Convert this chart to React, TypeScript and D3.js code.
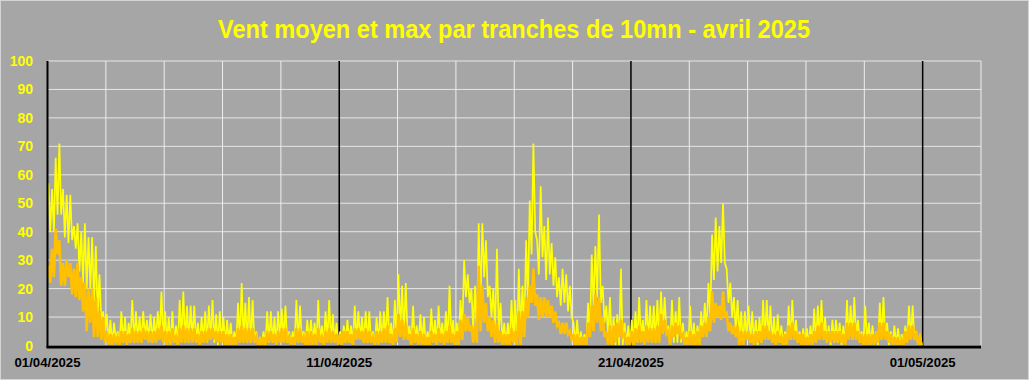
import React from 'react';
import * as d3 from 'd3';

const TITLE = 'Vent moyen et max par tranches de 10mn - avril 2025';
const Y_TICKS = [0, 10, 20, 30, 40, 50, 60, 70, 80, 90, 100];
const X_LABELS = ['01/04/2025', '11/04/2025', '21/04/2025', '01/05/2025'];
const X_LABEL_DATES = ['2025-04-01', '2025-04-11', '2025-04-21', '2025-05-01'];
const START = '2025-04-01';
const END = '2025-05-03';
const BUCKETS_PER_DAY = 8; // 3-hour buckets

// Max wind (rafales): peak and trough per 3-hour bucket, day by day
const maxHi = [
  57, 55, 66, 71, 55, 53, 53, 42,
  43, 40, 43, 38, 38, 35, 25, 12,
  11, 9, 8, 5, 12, 10, 8, 16,
  12, 10, 12, 9, 11, 10, 12, 19,
  12, 10, 12, 7, 16, 19, 14, 14,
  14, 8, 10, 12, 14, 16, 11, 12,
  10, 9, 8, 5, 15, 22, 15, 17,
  16, 5, 3, 5, 12, 12, 10, 12,
  13, 14, 5, 5, 16, 14, 5, 9,
  9, 8, 16, 7, 12, 16, 11, 8,
  5, 7, 9, 7, 14, 12, 10, 12,
  12, 5, 10, 12, 12, 17, 8, 16,
  25, 21, 22, 7, 14, 7, 11, 10,
  5, 13, 9, 14, 8, 12, 21, 9,
  8, 16, 30, 25, 20, 21, 43, 43,
  37, 21, 20, 34, 15, 8, 8, 16,
  16, 27, 21, 37, 51, 71, 37, 56,
  42, 45, 36, 31, 24, 27, 25, 21,
  8, 9, 5, 4, 15, 32, 35, 46,
  21, 14, 17, 10, 11, 27, 8, 7,
  9, 12, 17, 9, 16, 14, 14, 16,
  19, 17, 7, 16, 12, 17, 8, 5,
  14, 8, 7, 12, 15, 22, 39, 45,
  42, 50, 27, 22, 17, 16, 12, 12,
  14, 12, 9, 10, 16, 16, 14, 10,
  11, 7, 5, 14, 16, 9, 5, 6,
  6, 7, 13, 14, 16, 10, 7, 9,
  9, 8, 7, 16, 14, 17, 9, 5,
  14, 8, 7, 5, 15, 17, 8, 5,
  7, 6, 4, 7, 14, 14, 5, 4,
];
const maxLo = [
  40, 40, 46, 46, 38, 36, 37, 34,
  26, 22, 20, 20, 15, 10, 8, 5,
  1, 0, 2, 0, 1, 0, 2, 1,
  2, 1, 3, 2, 1, 2, 3, 2,
  1, 0, 1, 0, 2, 1, 1, 2,
  1, 0, 2, 1, 2, 1, 0, 1,
  0, 1, 0, 0, 1, 2, 1, 1,
  1, 0, 0, 0, 1, 1, 0, 2,
  2, 1, 0, 0, 1, 2, 0, 1,
  1, 0, 1, 0, 2, 1, 1, 0,
  0, 1, 1, 0, 2, 2, 1, 1,
  1, 0, 1, 1, 2, 1, 0, 2,
  5, 4, 3, 0, 1, 0, 1, 0,
  0, 1, 0, 2, 0, 1, 2, 0,
  1, 5, 17, 15, 5, 3, 15, 24,
  17, 10, 5, 5, 1, 0, 0, 1,
  0, 5, 5, 15, 32, 40, 25, 31,
  23, 25, 21, 17, 14, 15, 12, 10,
  0, 0, 0, 0, 3, 14, 17, 15,
  8, 3, 0, 0, 0, 0, 0, 0,
  0, 1, 2, 0, 2, 1, 1, 2,
  5, 4, 0, 1, 1, 1, 0, 0,
  0, 0, 0, 3, 5, 10, 23, 26,
  29, 29, 15, 10, 5, 3, 0, 3,
  1, 1, 0, 1, 2, 2, 1, 0,
  1, 0, 0, 2, 2, 1, 0, 0,
  0, 0, 1, 2, 2, 1, 0, 1,
  1, 0, 0, 2, 2, 3, 1, 0,
  1, 0, 0, 0, 2, 2, 0, 0,
  0, 0, 0, 1, 2, 2, 0, 0,
];
// Mean wind: high and low per 3-hour bucket
const meanHi = [
  28, 34, 41, 37, 29, 30, 29, 27,
  29, 24, 22, 20, 20, 17, 12, 10,
  5, 4, 4, 3, 5, 5, 4, 6,
  5, 5, 6, 5, 5, 5, 6, 7,
  5, 5, 6, 3, 6, 7, 6, 6,
  6, 4, 5, 5, 6, 6, 5, 5,
  5, 4, 4, 3, 6, 7, 6, 6,
  6, 3, 2, 3, 5, 5, 4, 5,
  6, 6, 3, 3, 6, 6, 3, 5,
  5, 4, 6, 3, 5, 6, 5, 4,
  4, 5, 5, 4, 6, 6, 5, 6,
  5, 3, 5, 5, 6, 7, 4, 6,
  11, 9, 8, 4, 6, 4, 5, 4,
  3, 5, 4, 6, 4, 5, 7, 4,
  5, 9, 11, 10, 7, 7, 28, 21,
  15, 10, 9, 8, 5, 4, 4, 6,
  5, 12, 12, 17, 21, 27, 18, 17,
  17, 16, 14, 12, 8, 8, 8, 5,
  4, 4, 3, 3, 8, 14, 18, 17,
  10, 5, 7, 7, 8, 9, 4, 3,
  5, 6, 7, 5, 7, 6, 6, 7,
  11, 9, 5, 7, 8, 7, 4, 3,
  5, 4, 5, 7, 8, 10, 19, 15,
  14, 19, 12, 8, 7, 7, 5, 5,
  5, 4, 5, 5, 7, 7, 5, 4,
  5, 3, 4, 7, 8, 5, 4, 4,
  3, 4, 5, 7, 8, 5, 5, 5,
  5, 5, 4, 8, 8, 8, 5, 4,
  4, 4, 4, 5, 8, 8, 5, 4,
  3, 3, 2, 5, 7, 7, 4, 3,
];
const meanLo = [
  22, 24, 32, 21, 21, 24, 18, 17,
  16, 12, 5, 8, 3, 3, 2, 1,
  0, 0, 1, 0, 1, 0, 1, 1,
  1, 1, 2, 1, 1, 1, 2, 1,
  0, 0, 1, 0, 1, 1, 1, 1,
  1, 0, 1, 1, 2, 2, 1, 1,
  0, 0, 0, 0, 1, 1, 1, 1,
  1, 0, 0, 0, 1, 1, 0, 1,
  1, 1, 0, 0, 1, 1, 0, 0,
  0, 0, 1, 0, 1, 1, 1, 0,
  0, 1, 1, 0, 2, 2, 1, 1,
  1, 0, 0, 1, 1, 1, 0, 1,
  3, 2, 2, 0, 1, 0, 0, 0,
  0, 1, 0, 1, 0, 1, 1, 0,
  0, 2, 5, 5, 1, 1, 5, 8,
  5, 3, 1, 1, 0, 0, 0, 1,
  0, 0, 3, 10, 15, 14, 9, 10,
  10, 10, 8, 7, 4, 4, 4, 2,
  0, 0, 0, 0, 3, 5, 8, 5,
  3, 0, 0, 1, 3, 3, 0, 0,
  0, 1, 1, 0, 1, 1, 1, 1,
  4, 4, 0, 3, 4, 3, 0, 0,
  0, 0, 0, 3, 3, 5, 8, 10,
  9, 10, 5, 4, 3, 0, 0, 2,
  1, 0, 1, 1, 2, 2, 1, 0,
  1, 0, 0, 2, 2, 1, 0, 0,
  0, 0, 1, 2, 2, 1, 1, 1,
  1, 1, 0, 2, 2, 2, 1, 0,
  0, 0, 0, 1, 2, 2, 1, 0,
  0, 0, 0, 1, 2, 2, 1, 0,
];

const W = 1029;
const H = 380;
const M = { left: 47.5, right: 981, top: 61, bottom: 345.5 };
const BG = '#a6a6a6';

export default function App() {
  const parse = (s: string) => new Date(s + 'T00:00:00Z');
  const x = d3.scaleUtc().domain([parse(START), parse(END)]).range([M.left, M.right]);
  const y = d3.scaleLinear().domain([0, 100]).range([M.bottom, M.top]);
  const dayMs = 86400000;
  const t0 = parse(START).getTime();
  const bucketMs = dayMs / BUCKETS_PER_DAY;

  const zig = (hi: number[], lo: number[]) => {
    const pts: [number, number][] = [];
    hi.forEach((h, i) => {
      const b = t0 + i * bucketMs;
      pts.push([x(new Date(b + bucketMs * 0.25)), y(h)]);
      pts.push([x(new Date(b + bucketMs * 0.75)), y(lo[i])]);
    });
    return pts;
  };
  const line = d3.line<[number, number]>().x((d) => d[0]).y((d) => d[1]);
  const maxPath = line(zig(maxHi, maxLo)) || '';
  const meanPath = line(zig(meanHi, meanLo)) || '';

  const gridDates = d3.utcDay.every(2)!.range(parse('2025-04-03'), new Date(parse(END).getTime() + 1));
  const majorSet = new Set(X_LABEL_DATES.map((s) => parse(s).getTime()));

  return (
    <div style={{ position: 'fixed', left: 0, top: 0 }}>
      <svg width={W} height={H} style={{ display: 'block' }}>
        <rect x={0.5} y={0.5} width={W - 1} height={H - 1} fill={BG} stroke="#d4d4d4" />
        <text
          x={514}
          y={38}
          textAnchor="middle"
          fontFamily="Liberation Sans, Arial, sans-serif"
          fontWeight="bold"
          fontSize={25}
          fill="#ffff00"
          textLength={592}
          lengthAdjust="spacingAndGlyphs"
        >
          {TITLE}
        </text>
        {Y_TICKS.map((v) => (
          <line key={'h' + v} x1={M.left} x2={M.right} y1={y(v)} y2={y(v)} stroke="#e6e6e6" strokeWidth={1} />
        ))}
        {gridDates
          .filter((d) => !majorSet.has(d.getTime()))
          .map((d) => (
            <line key={'v' + d.getTime()} x1={x(d)} x2={x(d)} y1={M.top} y2={M.bottom} stroke="#eeeeee" strokeWidth={1} />
          ))}
        {X_LABEL_DATES.slice(1).map((s) => (
          <line key={'m' + s} x1={x(parse(s))} x2={x(parse(s))} y1={M.top} y2={M.bottom + 1} stroke="#000" strokeWidth={1.5} />
        ))}
        <path d={maxPath} fill="none" stroke="#ffff00" strokeWidth={1.7} />
        <path d={meanPath} fill="none" stroke="#ffc000" strokeWidth={2.6} />
        <line x1={M.left} x2={M.left} y1={M.top} y2={M.bottom + 2} stroke="#000" strokeWidth={2} />
        <line x1={M.left - 1} x2={M.right} y1={M.bottom + 1.5} y2={M.bottom + 1.5} stroke="#000" strokeWidth={3} />
        {Y_TICKS.map((v) => (
          <text
            key={'yl' + v}
            x={33}
            y={y(v)}
            dy="0.36em"
            textAnchor="end"
            fontFamily="Liberation Sans, Arial, sans-serif"
            fontWeight="bold"
            fontSize={14}
            fill="#ffff00"
          >
            {v}
          </text>
        ))}
        {X_LABELS.map((lab, i) => (
          <text
            key={'xl' + i}
            x={x(parse(X_LABEL_DATES[i]))}
            y={363}
            dy="0.36em"
            textAnchor="middle"
            fontFamily="Liberation Sans, Arial, sans-serif"
            fontWeight="bold"
            fontSize={12}
            fill="#000"
            textLength={66}
            lengthAdjust="spacingAndGlyphs"
          >
            {lab}
          </text>
        ))}
      </svg>
    </div>
  );
}
